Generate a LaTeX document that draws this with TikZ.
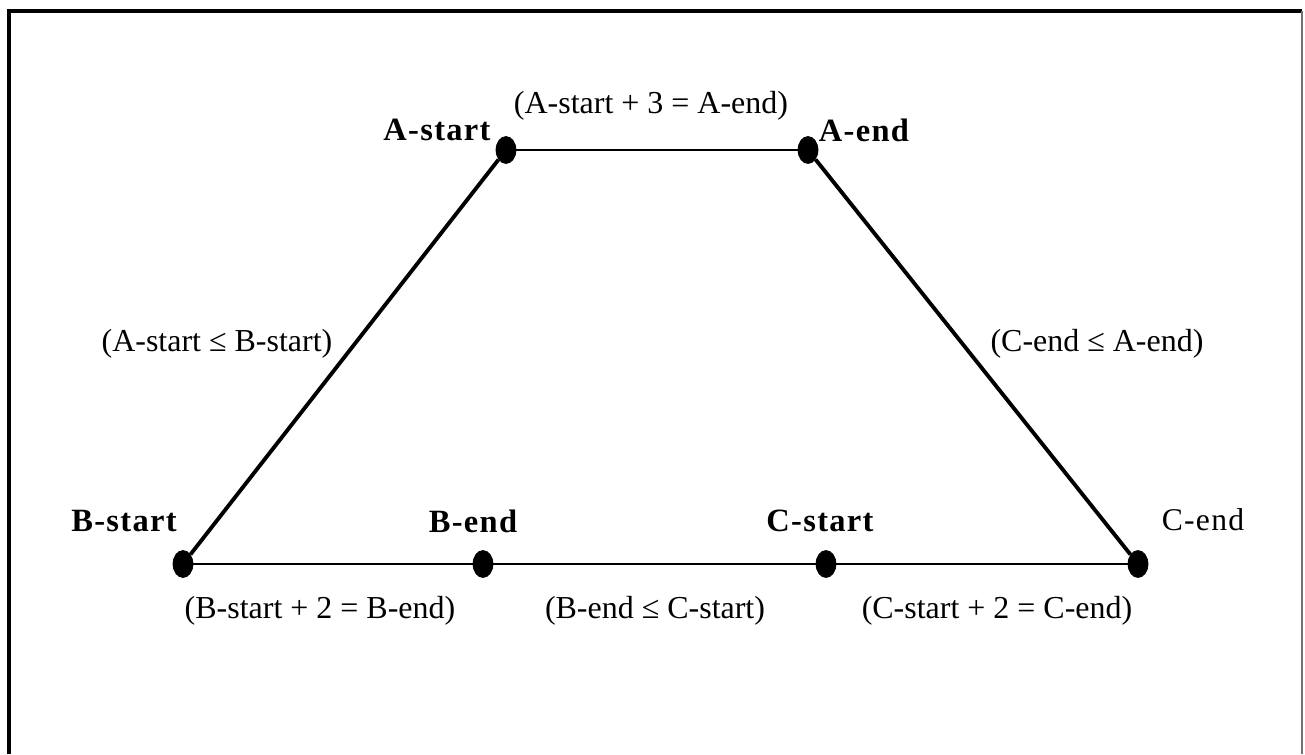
\documentclass[tikz,border=0pt]{standalone}
\usepackage{fontspec}
\setmainfont{Liberation Serif}
\newfontfamily\spacedfont[LetterSpace=4]{Liberation Serif}
\usetikzlibrary{shapes.geometric}

\begin{document}
\begin{tikzpicture}[
  x=0.02cm, y=-0.02cm,
  font=\fontsize{18.2}{21}\selectfont,
  dot/.style={ellipse,fill=black,draw=black,inner sep=0pt,minimum width=0.4cm,minimum height=0.54cm},
  link/.style={draw=black,line width=2.2pt},
  flat/.style={draw=black,line width=1.4pt},
  tag/.style={font=\fontsize{18.5}{21}\spacedfont\bfseries},
  tagreg/.style={font=\fontsize{18}{21}\spacedfont},
  cons/.style={inner sep=1pt}
]
\useasboundingbox (0,0) rectangle (1305,754);

% ---- frame ----
\draw[line width=2pt] (9,754) -- (9,11) -- (1302,11);
\draw[black!55,line width=0.6pt] (1302,11) -- (1302,754);

% ---- time points ----
\node[dot] (astart) at (506,150) {};
\node[dot] (aend)   at (808,150) {};
\node[dot] (bstart) at (183,564) {};
\node[dot] (bend)   at (483,564) {};
\node[dot] (cstart) at (826,564) {};
\node[dot] (cend)   at (1138,564) {};

% ---- constraints ----
\draw[flat] (astart) -- (aend);
\draw[link] (astart) -- (bstart);
\draw[link] (aend) -- (cend);
\draw[flat] (bstart) -- (bend);
\draw[flat] (bend) -- (cstart);
\draw[flat] (cstart) -- (cend);

% ---- point names ----
\node[tag]    (astarttag) at (437,130) {A-start};
\node[tag]    (aendtag)   at (864,130) {A-end};
\node[tag]    (bstarttag) at (124,521) {B-start};
\node[tag]    (bendtag)   at (473,521) {B-end};
\node[tag]    (cstarttag) at (820,521) {C-start};
\node[tagreg] (cendtag)   at (1203,520) {C-end};

% ---- constraint labels ----
\node[cons] (aab) at (651,106) {(A-start + 3 = A-end)};
\node[cons] (aleb) at (217,344) {(A-start ≤ B-start)};
\node[cons] (clea) at (1097,344) {(C-end ≤ A-end)};
\node[cons] (bbe) at (320,611) {(B-start + 2 = B-end)};
\node[cons] (blec) at (655,611) {(B-end ≤ C-start)};
\node[cons] (cce) at (997,611) {(C-start + 2 = C-end)};

\end{tikzpicture}
\end{document}
